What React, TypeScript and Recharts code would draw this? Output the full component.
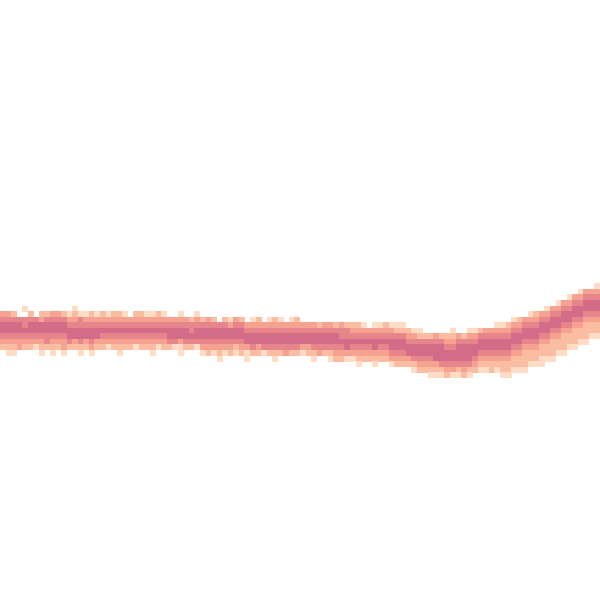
import { ScatterChart, Scatter, XAxis, YAxis } from "recharts";

// grid of 108 x 108 bins, each column: [top row, density levels from top down]
// level 0 = empty cell, 1 = palest ... 5 = darkest
const gridSize = 108;

const columns: [number, string][] = [
  [56, "3455432"], [56, "34554321"], [56, "24554321"], [56, "0455433"],
  [55, "10445432"], [56, "2455432"], [56, "0455431"], [56, "23554321"],
  [56, "2455442"], [56, "34554321"], [56, "3455432"], [56, "24554331"],
  [56, "1345542"], [55, "12345532"], [56, "14455421"], [56, "1345532"],
  [56, "23455431"], [56, "1345532"],
  [56, "2345432"], [56, "1345431"], [56, "2345432"], [56, "23454321"],
  [56, "1345432"], [56, "0345432"], [56, "2345431"], [56, "2345432"],
  [56, "1345432"], [56, "13454321"], [56, "2345431"], [56, "1345432"],
  [56, "0345542"], [56, "0345541"], [56, "13455311"], [56, "0345542"],
  [56, "0244542"], [56, "1345541"],
  [57, "2455431"], [57, "3455432"], [57, "2455431"], [57, "04554321"],
  [57, "2455431"], [57, "1355432"], [57, "3455421"], [57, "2455432"],
  [57, "03455311"], [57, "1345542"], [57, "2345532"], [57, "0345541"],
  [57, "1345542"], [57, "23455421"], [57, "1345542"], [57, "0345543"],
  [57, "1345542"], [57, "2345542"],
  [58, "345531"], [58, "345532"], [58, "3455421"], [58, "245543"],
  [58, "345542"], [58, "3455421"], [58, "2455432"], [58, "3445432"],
  [58, "2445531"], [58, "2345431"], [58, "23454321"], [58, "1345432"],
  [58, "0345432"], [58, "13455321"], [58, "1345432"], [58, "2345432"],
  [58, "13455431"], [58, "12455432"],
  [58, "12455432"], [58, "02345532"], [59, "13455421"], [59, "12455432"],
  [59, "02455432"], [60, "24554321"], [60, "34555321"], [60, "24555421"],
  [60, "23455432"], [59, "123455431"], [59, "034555421"], [59, "024555432"],
  [59, "134555421"], [59, "13455432"], [59, "24554321"], [59, "34554321"],
  [59, "34554322"], [58, "134554321"],
  [58, "1345543221"], [58, "2345543221"], [57, "1345543221"], [57, "2345543221"],
  [57, "3455432221"], [56, "1345543221"], [56, "2345543221"], [56, "3455432211"],
  [55, "1345543221"], [55, "3455432221"], [54, "1345543221"], [54, "3455432221"],
  [53, "1345543221"], [53, "3455432221"], [52, "1345543221"], [52, "3455432221"],
  [52, "345543221"], [51, "1345543221"],
];

const levelColors = ["", "#fedcc5", "#fbbda2", "#f5a290", "#e6868a", "#d26c89"];

const cells = columns.flatMap(([top, levels], col) =>
  levels
    .split("")
    .map((ch, i) => ({ x: col + 0.5, y: top + i + 0.5, level: Number(ch) }))
    .filter((c) => c.level > 0)
);

const cellPx = 600 / gridSize;

function Cell(props: any) {
  const { cx, cy, payload } = props;
  return (
    <rect
      x={cx - cellPx / 2}
      y={cy - cellPx / 2}
      width={cellPx + 0.4}
      height={cellPx + 0.4}
      fill={levelColors[payload.level]}
      shapeRendering="crispEdges"
    />
  );
}

export default function App() {
  return (
    <div style={{ position: "absolute", left: 0, top: 0, background: "#fff" }}>
      <ScatterChart width={600} height={600} margin={{ top: 0, right: 0, bottom: 0, left: 0 }}>
        <XAxis type="number" dataKey="x" domain={[0, gridSize]} hide />
        <YAxis type="number" dataKey="y" domain={[0, gridSize]} reversed hide />
        <Scatter data={cells} shape={<Cell />} isAnimationActive={false} />
      </ScatterChart>
    </div>
  );
}
